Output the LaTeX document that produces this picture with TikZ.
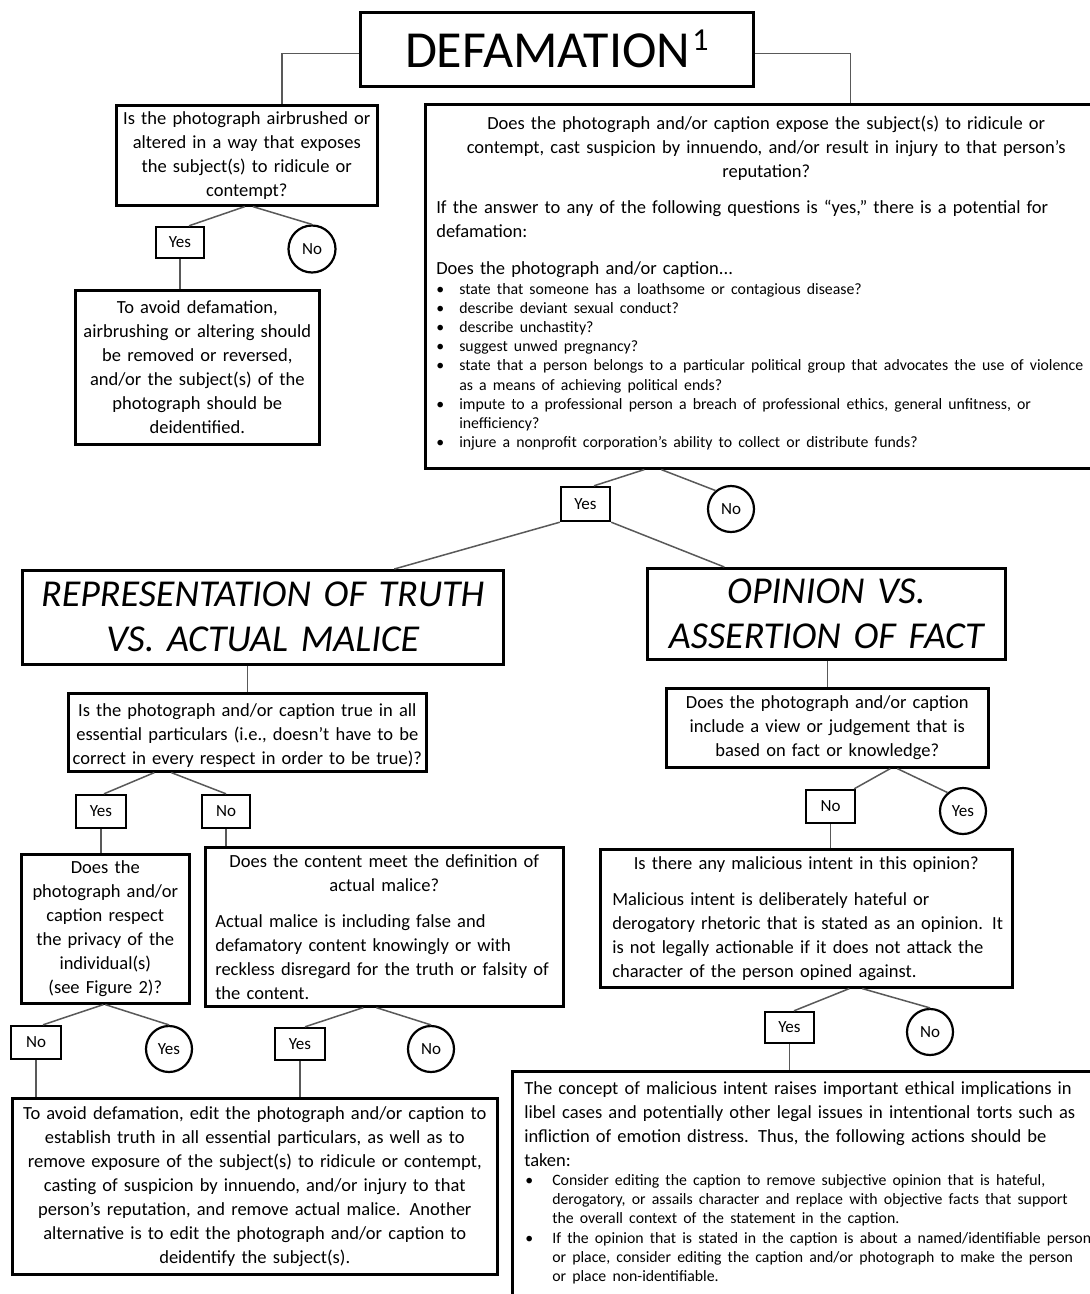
\documentclass[tikz,border=0pt]{standalone}
\usepackage{fontspec}
\setmainfont{Carlito}
\usetikzlibrary{calc}
\newcommand{\myctr}{\centering\leftskip=0pt plus 1fil minus 20pt\rightskip=0pt plus 1fil minus 20pt\linepenalty=1000\relax}
\newcommand{\myragged}{\raggedright\rightskip=0pt plus 1fil minus 40pt\linepenalty=1000\relax}
\newcommand{\bul}[3]{\par\noindent\hangindent=#2\hangafter=1\makebox[#2][l]{\hspace{#1}\textbullet}#3\par}
\tikzset{
  box/.style={draw=black, line width=2.6pt, inner sep=0pt, anchor=north west, font=\fontsize{18.5}{24}\selectfont},
  ctr/.style={execute at begin node=\myctr},
  lft/.style={execute at begin node=\myragged},
  lab/.style={draw=black, line width=2.4pt, inner sep=0pt, font=\fontsize{17}{20}\selectfont},
  circ/.style={draw=black, circle, line width=2.2pt, inner sep=0pt, minimum size=46pt, font=\fontsize{17}{20}\selectfont},
  conn/.style={draw=black!65, line width=1.5pt},
  titlebox/.style={box, ctr, font=\fontsize{38}{45}\selectfont\itshape},
}
\begin{document}
\begin{tikzpicture}[x=1pt,y=-1pt]
\useasboundingbox (0,0) rectangle (1090,1294);
\fill[white] (0,0) rectangle (1090,1294);
\clip (0,0) rectangle (1090,1294);

% title
\node[box, minimum width=393pt, minimum height=74pt, font=\fontsize{52}{56}\selectfont] (def) at (359,11)
  {DEFAMATION\kern2pt\raisebox{17pt}{\fontsize{32}{34}\selectfont 1}};

% left branch
\node[box, ctr, minimum width=261pt, minimum height=100pt, text width=255pt] (q1) at (115,104)
  {Is the photograph airbrushed or\\ altered in a way that exposes\\ the subject(s) to ridicule or\\ contempt?};
\node[lab, minimum width=48pt, minimum height=31pt] (y1) at (180,242.5) {Yes};
\node[circ, minimum size=47pt] (n1) at (312,249) {No};
\node[box, ctr, minimum width=244pt, minimum height=154pt, text width=238pt] (a1) at (74,289)
  {To avoid defamation,\\ airbrushing or altering should\\ be removed or reversed,\\ and/or the subject(s) of the\\ photograph should be\\ deidentified.};

% big question (its right edge runs past the picture's edge)
\node[box, lft, minimum width=682pt, minimum height=364pt, text width=660pt] (q2) at (424,103)
  {{\myctr Does the photograph and/or caption expose the subject(s) to ridicule or\\
  contempt, cast suspicion by innuendo, and/or result in injury to that person’s\\
  reputation?\par}
  \vspace{12pt}
  If the answer to any of the following questions is “yes,” there is a potential for\\
  defamation:\par
  \vspace{13pt}
  Does the photograph and/or caption...\par
  {\fontsize{15.8}{19.2}\selectfont
  \bul{0pt}{23pt}{state that someone has a loathsome or contagious disease?}
  \bul{0pt}{23pt}{describe deviant sexual conduct?}
  \bul{0pt}{23pt}{describe unchastity?}
  \bul{0pt}{23pt}{suggest unwed pregnancy?}
  \bul{0pt}{23pt}{state that a person belongs to a particular political group that advocates the use of violence\newline as a means of achieving political ends?}
  \bul{0pt}{23pt}{impute to a professional person a breach of professional ethics, general unfitness, or\newline inefficiency?}
  \bul{0pt}{23pt}{injure a nonprofit corporation’s ability to collect or distribute funds?}
  }\par\kern6pt};
\node[lab, minimum width=49pt, minimum height=34pt] (y2) at (585.5,504) {Yes};
\node[circ] (n2) at (731,509) {No};

% section titles
\node[titlebox, minimum width=481pt, minimum height=94pt, text width=475pt] (rep) at (21,569)
  {REPRESENTATION OF TRUTH\\ VS. ACTUAL MALICE};
\node[titlebox, minimum width=358pt, minimum height=91pt, text width=350pt] (op) at (646,567)
  {OPINION VS.\\ ASSERTION OF FACT};

% truth branch
\node[box, ctr, minimum width=358pt, minimum height=78pt, text width=352pt] (q3) at (67,692)
  {Is the photograph and/or caption true in all\\ essential particulars (i.e., doesn’t have to be\\ correct in every respect in order to be true)?\par\kern-7pt};
\node[lab, minimum width=50pt, minimum height=33pt] (y3) at (101,811.5) {Yes};
\node[lab, minimum width=48pt, minimum height=33pt] (n3) at (226,811.5) {No};
\node[box, ctr, minimum width=168pt, minimum height=149pt, text width=162pt] (q4) at (20,853)
  {Does the\\ photograph and/or\\ caption respect\\ the privacy of the\\ individual(s)\\ (see Figure 2)?};
\node[box, lft, minimum width=358pt, minimum height=159pt, text width=338pt] (q5) at (204,846)
  {{\myctr Does the content meet the definition of\\ actual malice?\par}
  \vspace{12pt}
  Actual malice is including false and\\ defamatory content knowingly or with\\ reckless disregard for the truth or falsity of\\ the content.\par};
\node[lab, minimum width=50pt, minimum height=33pt] (n4) at (36,1042.5) {No};
\node[circ] (y4) at (169,1049) {Yes};
\node[lab, minimum width=50pt, minimum height=32pt] (y5) at (300,1044) {Yes};
\node[circ] (n5) at (431,1049) {No};
\node[box, ctr, minimum width=485pt, minimum height=176pt, text width=480pt] (a2) at (11,1097)
  {To avoid defamation, edit the photograph and/or caption to\\ establish truth in all essential particulars, as well as to\\ remove exposure of the subject(s) to ridicule or contempt,\\ casting of suspicion by innuendo, and/or injury to that\\ person’s reputation, and remove actual malice. Another\\ alternative is to edit the photograph and/or caption to\\ deidentify the subject(s).};

% opinion branch
\node[box, ctr, minimum width=322pt, minimum height=79pt, text width=316pt] (q6) at (665,687)
  {Does the photograph and/or caption\\ include a view or judgement that is\\ based on fact or knowledge?};
\node[lab, minimum width=49pt, minimum height=33pt] (n6) at (830.5,806.5) {No};
\node[circ] (y6) at (963,811) {Yes};
\node[box, lft, minimum width=412pt, minimum height=138pt, text width=388pt] (q7) at (599,848)
  {{\myctr Is there any malicious intent in this opinion?\par}
  \vspace{12pt}
  Malicious intent is deliberately hateful or\\ derogatory rhetoric that is stated as an opinion. It\\ is not legally actionable if it does not attack the\\ character of the person opined against.\par};
\node[lab, minimum width=49pt, minimum height=31pt] (y7) at (789.5,1027.5) {Yes};
\node[circ] (n7) at (930,1032) {No};
\node[box, lft, minimum width=580pt, minimum height=226pt, text width=556pt] (a3) at (511,1070)
  {The concept of malicious intent raises important ethical implications in\\ libel cases and potentially other legal issues in intentional torts such as\\ infliction of emotion distress. Thus, the following actions should be\\ taken:\par
  {\fontsize{15.8}{19.3}\selectfont
  \bul{1pt}{28pt}{Consider editing the caption to remove subjective opinion that is hateful,\newline derogatory, or assails character and replace with objective facts that support\newline the overall context of the statement in the caption.}
  \bul{1pt}{28pt}{If the opinion that is stated in the caption is about a named/identifiable person\newline or place, consider editing the caption and/or photograph to make the person\newline or place non-identifiable.}
  }\par\kern3pt};

% connectors
\draw[conn] ([yshift=-4pt]def.west) -| ([xshift=35pt]q1.north);
\draw[conn] ([yshift=-4pt]def.east) -| ([xshift=84pt]q2.north);
\draw[conn] ([xshift=-2pt]q1.south) -- ([xshift=9pt]y1.north);
\draw[conn] ([xshift=6pt]q1.south) -- (n1.north);
\draw[conn] (y1.south) -- (y1.south |- a1.north);
\draw[conn] ([xshift=-122pt]q2.south) -- ([xshift=8.5pt]y2.north);
\draw[conn] ([xshift=-105pt]q2.south) -- (n2.130);
\draw[conn] (y2.south west) -- ([xshift=131.5pt]rep.north);
\draw[conn] (y2.south east) -- ([xshift=-102pt]op.north);
\draw[conn] (q3.north |- rep.south) -- (q3.north);
\draw[conn] ([xshift=-93pt]q3.south) -- ([xshift=3pt]y3.north);
\draw[conn] ([xshift=-76pt]q3.south) -- (n3.north);
\draw[conn] (y3.south) -- (y3.south |- q4.north);
\draw[conn] (n3.south) -- (n3.south |- q5.north);
\draw[conn] ([xshift=-2pt]q4.south) -- ([xshift=7pt]n4.north);
\draw[conn] (q4.south) -- (y4.north);
\draw[conn] ([xshift=-21pt]q5.south) -- ([xshift=5pt]y5.north);
\draw[conn] ([xshift=-8pt]q5.south) -- (n5.north);
\draw[conn] (n4.south) -- (n4.south |- a2.north);
\draw[conn] (y5.south) -- (y5.south |- a2.north);
\draw[conn] (q6.north |- op.south) -- (q6.north);
\draw[conn] ([xshift=63pt]q6.south) -- ([xshift=-2pt]n6.north east);
\draw[conn] ([xshift=70pt]q6.south) -- (y6.130);
\draw[conn] (n6.south) -- (n6.south |- q7.north);
\draw[conn] ([xshift=43pt]q7.south) -- ([xshift=4.5pt]y7.north);
\draw[conn] ([xshift=56pt]q7.south) -- (n7.north);
\draw[conn] (y7.south) -- (y7.south |- a3.north);
\end{tikzpicture}
\end{document}
